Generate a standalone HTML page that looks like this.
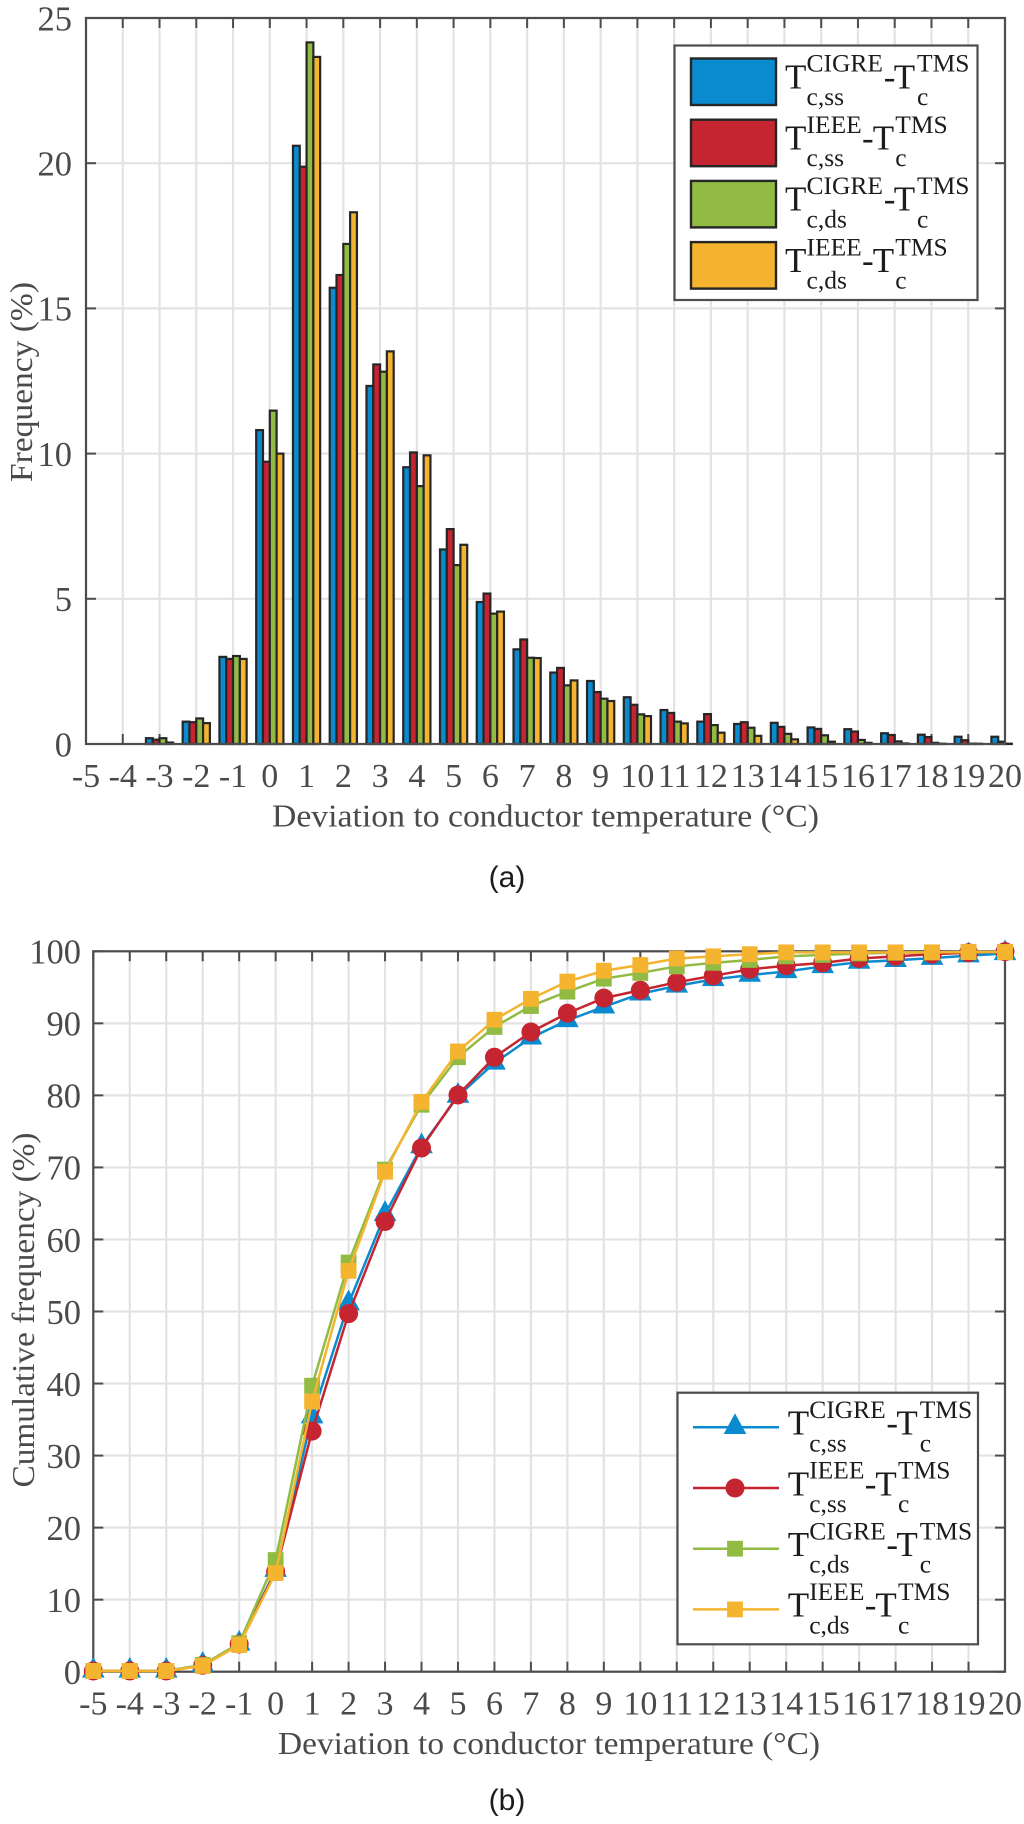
<!DOCTYPE html>
<html lang="en">
<head>
<meta charset="utf-8">
<title>Deviation to conductor temperature</title>
<style>
html,body{margin:0;padding:0;background:#fff;}
svg{display:block;filter:blur(0.35px);}
text{font-family:"Liberation Serif",serif;}
</style>
</head>
<body>
<svg id="fig" width="1024" height="1824" viewBox="0 0 1024 1824" xmlns="http://www.w3.org/2000/svg">
<rect width="1024" height="1824" fill="#ffffff"/>
</svg>
<script>
const categories = [-5,-4,-3,-2,-1,0,1,2,3,4,5,6,7,8,9,10,11,12,13,14,15,16,17,18,19,20];
const freqTicks = [0,5,10,15,20,25];
const cumTicks = [0,10,20,30,40,50,60,70,80,90,100];

const freqCigreSS = [0,0,0.2,0.77,3.0,10.81,20.6,15.71,12.33,9.53,6.7,4.89,3.26,2.46,2.17,1.61,1.17,0.77,0.69,0.73,0.57,0.51,0.37,0.32,0.25,0.25];
const freqIeeeSS = [0,0,0.15,0.75,2.93,9.72,19.88,16.15,13.07,10.04,7.4,5.18,3.6,2.62,1.79,1.35,1.07,1.03,0.75,0.59,0.52,0.43,0.31,0.24,0.13,0.08];
const freqCigreDS = [0,0,0.2,0.88,3.03,11.48,24.16,17.22,12.82,8.88,6.16,4.49,2.97,2.02,1.56,1.02,0.77,0.65,0.56,0.35,0.3,0.14,0.09,0.04,0.01,0.01];
const freqIeeeDS = [0,0,0.05,0.72,2.93,10.0,23.66,18.31,13.52,9.94,6.86,4.56,2.96,2.19,1.48,0.96,0.71,0.39,0.28,0.16,0.08,0.04,0.02,0.01,0.01,0];

const cumCigreSS = [0.1,0.1,0.1,0.93,3.85,14.1,35.4,51.1,63.5,72.9,79.9,84.5,88.0,90.4,92.3,94.1,95.2,96.1,96.7,97.2,97.9,98.5,98.75,99.05,99.4,99.7];
const cumIeeeSS = [0.1,0.1,0.1,0.9,3.85,13.9,33.4,49.7,62.5,72.7,80.05,85.3,88.8,91.4,93.5,94.6,95.7,96.6,97.5,98.0,98.4,99.0,99.3,99.6,99.8,99.95];
const cumCigreDS = [0.1,0.1,0.1,0.95,3.95,15.5,39.7,56.8,69.7,78.7,85.3,89.5,92.4,94.4,96.2,97.0,97.9,98.4,98.8,99.3,99.5,99.7,99.8,99.85,99.9,99.9];
const cumIeeeDS = [0.1,0.1,0.1,0.8,3.7,13.7,37.5,55.65,69.4,79.1,86.1,90.5,93.4,95.8,97.3,98.1,99.0,99.3,99.6,99.85,99.85,99.85,99.85,99.85,99.9,99.9];

const seriesColors = ['#0a8acf','#c42531','#92bb43','#f5b42f'];
const seriesKeys = ['cigre-ss','ieee-ss','cigre-ds','ieee-ds'];
const legendSups = ['CIGRE','IEEE','CIGRE','IEEE'];
const legendSubs = ['c,ss','c,ss','c,ds','c,ds'];

const NS = 'http://www.w3.org/2000/svg';
const fig = document.getElementById('fig');
const AXIS = '#4d4d4d', GRID = '#e3e3e3', TXT = '#4a4a4a', EDGE = '#262626', INK = '#1c1c1c';

function mk(parent, tag, attrs){
  const el = document.createElementNS(NS, tag);
  for (const k in attrs) el.setAttribute(k, attrs[k]);
  parent.appendChild(el);
  return el;
}

function makeScale(d0, d1, r0, r1){
  return function(v){ return r0 + (v - d0) * (r1 - r0) / (d1 - d0); };
}

function drawAxesBase(g, box, x, y, yTicks, fontX, fontY, yLabelRight){
  categories.forEach(function(c){
    const l = mk(g, 'line', {x1:x(c), x2:x(c), y1:box.top, y2:box.bottom, stroke:GRID, 'stroke-width':2.2});
    
    
  });
  yTicks.forEach(function(t){
    const l = mk(g, 'line', {x1:box.left, x2:box.right, y1:y(t), y2:y(t), stroke:GRID, 'stroke-width':2.2});
    
    
  });
  categories.forEach(function(c){
    const a = mk(g, 'line', {x1:x(c), x2:x(c), y1:box.bottom, y2:box.bottom-10, stroke:AXIS, 'stroke-width':2});
    
    
    const b = mk(g, 'line', {x1:x(c), x2:x(c), y1:box.top, y2:box.top+10, stroke:AXIS, 'stroke-width':2});
    
    
    const t = mk(g, 'text', {x:x(c), y:box.xTickBase, 'text-anchor':'middle', 'font-size':fontX, fill:TXT});
    
    
    t.textContent = String(c);
  });
  yTicks.forEach(function(v){
    const a = mk(g, 'line', {x1:box.left, x2:box.left+10, y1:y(v), y2:y(v), stroke:AXIS, 'stroke-width':2});
    
    
    const b = mk(g, 'line', {x1:box.right, x2:box.right-10, y1:y(v), y2:y(v), stroke:AXIS, 'stroke-width':2});
    
    
    const t = mk(g, 'text', {x:yLabelRight, y:y(v)+12.3, 'text-anchor':'end', 'font-size':fontY, fill:TXT});
    
    
    t.textContent = String(v);
  });
}

function drawFrame(g, box){
  const r = mk(g, 'rect', {x:box.left, y:box.top, width:box.right-box.left, height:box.bottom-box.top, fill:'none', stroke:AXIS, 'stroke-width':2.2});
  
  
}

function drawTitles(g, xText, xCfg, yText, yCfg, capText, capCfg){
  const xl = mk(g, 'text', {x:xCfg.x, y:xCfg.y, 'text-anchor':'middle', 'font-size':31.5, fill:TXT, textLength:xCfg.len, lengthAdjust:'spacingAndGlyphs'});
  
  
  xl.textContent = xText;
  const yl = mk(g, 'text', {transform:'translate('+yCfg.x+' '+yCfg.y+') rotate(-90)', 'text-anchor':'middle', 'font-size':31.5, fill:TXT, textLength:yCfg.len, lengthAdjust:'spacingAndGlyphs'});
  
  
  yl.textContent = yText;
  const cap = mk(g, 'text', {x:capCfg.x, y:capCfg.y, 'text-anchor':'middle', 'font-size':30, fill:INK, style:'font-family:"Liberation Sans",sans-serif'});
  
  
  cap.textContent = capText;
}

function drawLegendLabel(g, i, tx, tBase){
  const sup = legendSups[i];
  const long = sup === 'CIGRE';
  const dashX = long ? 98.7 : 77;
  const t2X = long ? 108.7 : 87.7;
  const tmsX = long ? 132 : 110.3;
  const t = mk(g, 'text', {fill:INK, 'font-size':35});
  
  
  const parts = [
    ['T', tx, tBase, 35],
    [sup, tx+21.5, tBase-16.6, 25.5],
    [legendSubs[i], tx+21.5, tBase+16.7, 25.5],
    ['-', tx+dashX, tBase, 35],
    ['T', tx+t2X, tBase, 35],
    ['TMS', tx+tmsX, tBase-16.6, 25.5],
    ['c', tx+tmsX, tBase+16.7, 25.5]
  ];
  parts.forEach(function(p){
    const s = mk(t, 'tspan', {x:p[1], y:p[2], 'font-size':p[3]});
    
    
    s.textContent = p[0];
  });
}

function drawMarker(g, kind, cx, cy, color){
  let m;
  if (kind === 0) {
    m = mk(g, 'polygon', {points:[cx, cy-14, cx+11.3, cy+6.7, cx-11.3, cy+6.7].join(' '), fill:color});
  } else if (kind === 1) {
    m = mk(g, 'circle', {cx:cx, cy:cy, r:9.5, fill:color});
  } else {
    m = mk(g, 'rect', {x:cx-7.9, y:cy-7.9, width:15.8, height:15.8, fill:color});
  }
  
  
}

/* ---------- Panel (a): histogram ---------- */
const boxA = {left:86, right:1005, top:18, bottom:744, xTickBase:787};
const xA = makeScale(-5, 20, boxA.left, boxA.right);
const yA = makeScale(0, 25, boxA.bottom, boxA.top);
const gA = mk(fig, 'g', {});


drawAxesBase(gA, boxA, xA, yA, freqTicks, 34, 34.5, 72);

const freqSeries = [freqCigreSS, freqIeeeSS, freqCigreDS, freqIeeeDS];
const barW = 6.8;
freqSeries.forEach(function(vals, s){
  const grp = mk(gA, 'g', {});
  
  
  vals.forEach(function(v, i){
    const top = yA(v);
    const b = mk(grp, 'rect', {x:xA(categories[i]) + (s-2)*barW, y:top, width:barW, height:yA(0)-top, fill:seriesColors[s], stroke:EDGE, 'stroke-width':2.2});
    
    
  });
});
drawFrame(gA, boxA);
drawTitles(gA, 'Deviation to conductor temperature (°C)', {x:545.5,y:826.7,len:547}, 'Frequency (%)', {x:32,y:382,len:200}, '(a)', {x:507,y:887});

const legA = mk(gA, 'g', {});


const legABox = mk(legA, 'rect', {x:674.5, y:45.5, width:303, height:254.5, fill:'#ffffff', stroke:AXIS, 'stroke-width':2.2});


seriesKeys.forEach(function(k, i){
  const off = i * 61.2;
  const sw = mk(legA, 'rect', {x:691, y:58.5+off, width:85, height:46.5, fill:seriesColors[i], stroke:EDGE, 'stroke-width':2.4});
  
  
  drawLegendLabel(legA, i, 785, 88.3+off);
});

/* ---------- Panel (b): cumulative lines ---------- */
const boxB = {left:93.3, right:1005, top:951.3, bottom:1671.7, xTickBase:1714.3};
const xB = makeScale(-5, 20, boxB.left, boxB.right);
const yB = makeScale(0, 100, boxB.bottom, boxB.top);
const gB = mk(fig, 'g', {});


drawAxesBase(gB, boxB, xB, yB, cumTicks, 34, 34.5, 81);
drawFrame(gB, boxB);

const cumSeries = [cumCigreSS, cumIeeeSS, cumCigreDS, cumIeeeDS];
cumSeries.forEach(function(vals, s){
  const grp = mk(gB, 'g', {});
  
  
  const pts = vals.map(function(v, i){ return xB(categories[i]) + ',' + yB(v); }).join(' ');
  const pl = mk(grp, 'polyline', {points:pts, fill:'none', stroke:seriesColors[s], 'stroke-width':2.5});
  
  
  vals.forEach(function(v, i){
    drawMarker(grp, s, xB(categories[i]), yB(v), seriesColors[s]);
  });
});
drawTitles(gB, 'Deviation to conductor temperature (°C)', {x:549,y:1754,len:542}, 'Cumulative frequency (%)', {x:34,y:1310,len:355}, '(b)', {x:507,y:1810});

const legB = mk(gB, 'g', {});


const legBBox = mk(legB, 'rect', {x:677.5, y:1392.7, width:300.5, height:251.6, fill:'#ffffff', stroke:AXIS, 'stroke-width':2.2});


seriesKeys.forEach(function(k, i){
  const off = i * 60.7;
  const cy = 1427.3 + off;
  const ln = mk(legB, 'line', {x1:693, x2:779, y1:cy, y2:cy, stroke:seriesColors[i], 'stroke-width':2.5});
  
  
  drawMarker(legB, i, 735, cy, seriesColors[i]);
  drawLegendLabel(legB, i, 787.7, 1434.6+off);
});
</script>
</body>
</html>
